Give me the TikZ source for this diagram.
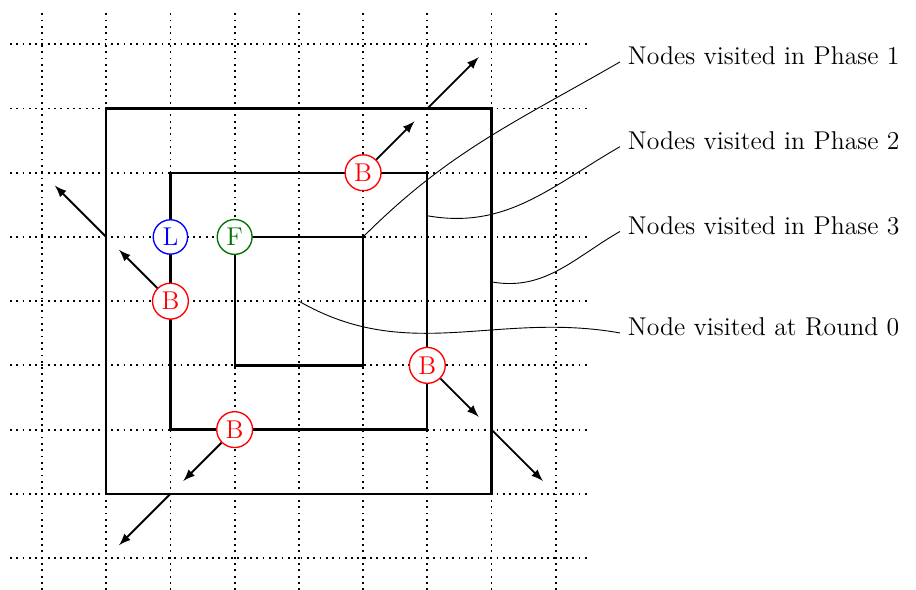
\documentclass[tikz,border=0pt]{standalone}
\usetikzlibrary{calc}
\tikzset{
  sq/.style={line width=1pt},
  arr/.style={thick,-latex},
  vis/.style={circle,draw=#1,text=#1,fill=white,inner sep=1.7pt,semithick},
  lab/.style={anchor=base west},
  lead/.style={thin}
}
\begin{document}
\begin{tikzpicture}[font=\fontsize{11.4}{14}\selectfont]
\useasboundingbox (-0.654,-0.483) rectangle (13.61,8.69);
\draw[thick,dotted] (-0.5,-0.5) grid (8.5,8.5);
% squares
\draw[sq] (1,1) rectangle (7,7);
\draw[sq] (2,2) rectangle (6,6);
\draw[sq] (3,3) rectangle (5,5);
% coordinates
\coordinate (c0) at (4,4);
\coordinate (c1) at (5,5);
\coordinate (c2) at (6,5.33);
\coordinate (c3) at (7,4.3);
% labels
\node[lab] (l1) at (9,7.68) {Nodes visited in Phase 1};
\node[lab] (l2) at (9,6.36) {Nodes visited in Phase 2};
\node[lab] (l3) at (9,5.04) {Nodes visited in Phase 3};
\node[lab] (l0) at (9,3.46) {Node visited at Round 0};
\draw[lead] (c1) to[out=45,in=210] ([yshift=1.3pt]l1.base west);
\draw[lead] (c2) to[out=-10,in=210] ([yshift=1.3pt]l2.base west);
\draw[lead] (c3) to[out=-10,in=210] ([yshift=1.3pt]l3.base west);
\draw[lead] (c0) to[out=-30,in=170] ([yshift=1.3pt]l0.base west);
% visited nodes
\node[vis=red] (b1) at (5,6) {B};
\node[vis=blue] (lL) at (2,5) {L};
\node[vis=green!45!black] (fF) at (3,5) {F};
\node[vis=red] (b2) at (2,4) {B};
\node[vis=red] (b3) at (6,3) {B};
\node[vis=red] (b4) at (3,2) {B};
% arrow points
\coordinate (t1) at (5.8,6.8);
\coordinate (s2) at (6,7);   \coordinate (t2) at (6.8,7.8);
\coordinate (s3) at (1,5);   \coordinate (t3) at (0.2,5.8);
\coordinate (t4) at (1.2,4.8);
\coordinate (t5) at (6.8,2.2);
\coordinate (s6) at (7,2);   \coordinate (t6) at (7.8,1.2);
\coordinate (t7) at (2.2,1.2);
\coordinate (s8) at (2,1);   \coordinate (t8) at (1.2,0.2);
\draw[arr] (b1) -- (t1);
\draw[arr] (s2) -- (t2);
\draw[arr] (s3) -- (t3);
\draw[arr] (b2) -- (t4);
\draw[arr] (b3) -- (t5);
\draw[arr] (s6) -- (t6);
\draw[arr] (b4) -- (t7);
\draw[arr] (s8) -- (t8);
\end{tikzpicture}
\end{document}
